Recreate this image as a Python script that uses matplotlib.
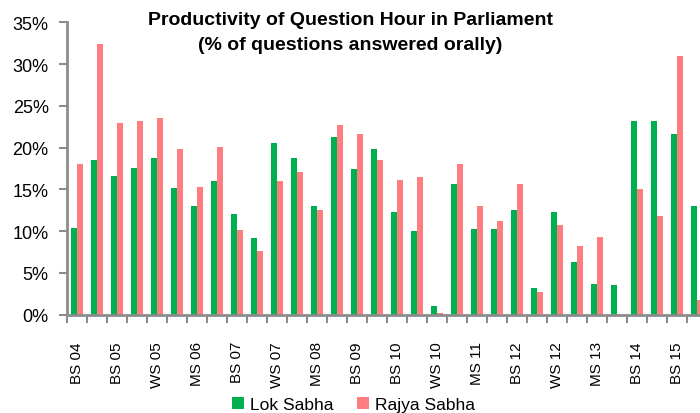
import matplotlib
matplotlib.use("Agg")
import matplotlib.pyplot as plt
import numpy as np
from matplotlib.ticker import FuncFormatter, FixedLocator

# session labels (only every other one is shown on the axis)
sessions = ["BS 04", "WS 04", "BS 05", "MS 05", "WS 05", "BS 06", "MS 06", "WS 06",
            "BS 07", "MS 07", "WS 07", "BS 08", "MS 08", "WS 08", "BS 09", "WS 09",
            "BS 10", "MS 10", "WS 10", "BS 11", "MS 11", "WS 11", "BS 12", "MS 12",
            "WS 12", "BS 13", "MS 13", "WS 13", "BS 14", "WS 14", "BS 15", "MS 15"]

# % of questions answered orally
lok_sabha = [10.4, 18.5, 16.6, 17.6, 18.8, 15.2, 13.0, 16.0,
             12.1, 9.2, 20.6, 18.8, 13.0, 21.3, 17.4, 19.8,
             12.3, 10.0, 1.0, 15.7, 10.3, 10.3, 12.5, 3.2,
             12.3, 6.3, 3.7, 3.6, 23.2, 23.2, 21.6, 13.0]
rajya_sabha = [18.0, 32.4, 22.9, 23.2, 23.5, 19.8, 15.3, 20.1,
               10.1, 7.6, 16.0, 17.1, 12.5, 22.7, 21.6, 18.5,
               16.1, 16.5, 0.2, 18.0, 13.0, 11.2, 15.7, 2.7,
               10.7, 8.2, 9.3, 0.0, 15.0, 11.8, 31.0, 1.8]

plt.rcParams['font.family'] = ['Liberation Sans', 'DejaVu Sans']

GREEN = "#00B050"
PINK = "#FF7C80"
GREY = "#8c8c8c"

fig = plt.figure(figsize=(7.0, 4.14), dpi=100)
ax = fig.add_axes([0.0953, 0.2374, 0.9143, 0.7063])

x = np.arange(len(sessions))
w = 0.3
ax.bar(x - w / 2, lok_sabha, width=w, color=GREEN, label="Lok Sabha")
ax.bar(x + w / 2, rajya_sabha, width=w, color=PINK, label="Rajya Sabha")

ax.set_xlim(-0.5, len(sessions) - 0.5)
ax.set_ylim(0, 35)
ax.set_yticks(np.arange(0, 36, 5))
ax.yaxis.set_major_formatter(FuncFormatter(lambda v, p: f"{v:.0f}%"))

# tick marks between categories, labels on every other category
ax.xaxis.set_major_locator(FixedLocator(np.arange(-0.5, len(sessions), 1.0)))
ax.xaxis.set_major_formatter(FuncFormatter(lambda v, p: ""))
ax.xaxis.set_minor_locator(FixedLocator(x[::2]))
ax.set_xticklabels(sessions[::2], minor=True, rotation=90)
ax.tick_params(axis="x", which="minor", length=0, pad=19, labelsize=11)
ax.tick_params(axis="x", which="major", length=6, width=1.5, color=GREY, direction="out")
ax.tick_params(axis="y", length=6, width=1.5, color=GREY, labelsize=13, pad=7)

for side in ["top", "right"]:
    ax.spines[side].set_visible(False)
for side in ["left", "bottom"]:
    ax.spines[side].set_color(GREY)
    ax.spines[side].set_linewidth(2)

fig.text(0.5, 0.97, "Productivity of Question Hour in Parliament\n(% of questions answered orally)",
         ha="center", va="top", fontsize=14, fontweight="bold", linespacing=1.55)

fig.legend(loc="lower center", bbox_to_anchor=(0.505, -0.035), ncol=2, frameon=False,
           fontsize=12.5, handlelength=0.7, handleheight=0.7, handletextpad=0.35,
           columnspacing=1.3)

fig.savefig("out.png", dpi=100)
